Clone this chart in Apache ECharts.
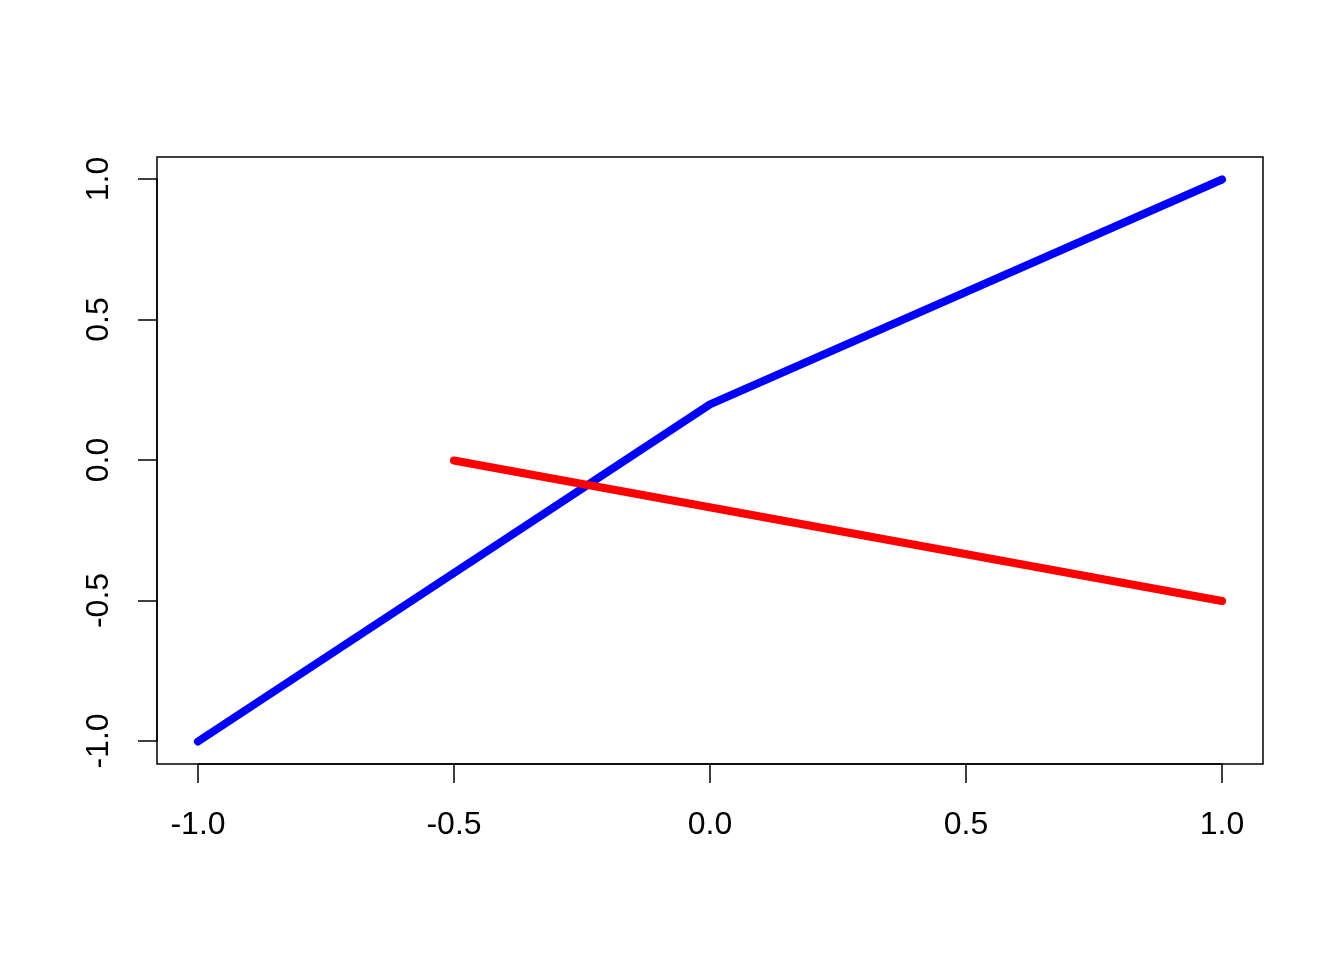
<!DOCTYPE html>
<html><head><meta charset="utf-8">
<script src="https://cdn.jsdelivr.net/npm/echarts@6/dist/echarts.min.js"></script>
<style>html,body{margin:0;padding:0;background:#fff}#c{width:1344px;height:960px}</style>
</head><body><div id="c"></div>
<script>
const blueX = [-1, 0, 1];
const blueY = [-1, 0.2, 1];
const redX = [-0.5, 1];
const redY = [0, -0.5];
const xTicks = [-1.0, -0.5, 0.0, 0.5, 1.0];
const yTicks = [-1.0, -0.5, 0.0, 0.5, 1.0];

const pair = (xs, ys) => xs.map((x, i) => [x, ys[i]]);
const font = 'Liberation Sans, Arial, sans-serif';
const chart = echarts.init(document.getElementById('c'), null, {renderer: 'canvas'});
chart.setOption({
  animation: false,
  backgroundColor: '#fff',
  grid: [
    {left: 157, top: 157, width: 1106, height: 607, show: true, borderColor: '#000', borderWidth: 1.5, backgroundColor: 'transparent'},
    {left: 198, top: 179, width: 1024, height: 562}
  ],
  xAxis: [
    {gridIndex: 0, type: 'value', min: -1.08, max: 1.08, show: false},
    {gridIndex: 1, type: 'value', min: -1, max: 1, interval: 0.5, position: 'bottom', offset: 23,
     axisLine: {show: true, onZero: false, lineStyle: {color: '#000', width: 1.5}},
     axisTick: {show: true, length: 19, lineStyle: {color: '#000', width: 1.5}},
     axisLabel: {show: true, margin: 45, fontSize: 32, color: '#000', fontFamily: font,
       formatter: v => xTicks.includes(v) ? v.toFixed(1) : ''},
     splitLine: {show: false}}
  ],
  yAxis: [
    {gridIndex: 0, type: 'value', min: -1.08, max: 1.08, show: false},
    {gridIndex: 1, type: 'value', min: -1, max: 1, interval: 0.5, position: 'left', offset: 41,
     axisLine: {show: true, onZero: false, lineStyle: {color: '#000', width: 1.5}},
     axisTick: {show: true, length: 19, lineStyle: {color: '#000', width: 1.5}},
     axisLabel: {show: true, margin: 58, fontSize: 32, color: '#000', fontFamily: font, rotate: 90,
       verticalAlign: 'middle', align: 'center',
       formatter: v => yTicks.includes(v) ? v.toFixed(1) : ''},
     splitLine: {show: false}}
  ],
  series: [
    {type: 'line', xAxisIndex: 0, yAxisIndex: 0, data: pair(blueX, blueY), symbol: 'none',
     lineStyle: {color: '#0000ff', width: 8, cap: 'round', join: 'round'}},
    {type: 'line', xAxisIndex: 0, yAxisIndex: 0, data: pair(redX, redY), symbol: 'none',
     lineStyle: {color: '#ff0000', width: 8, cap: 'round', join: 'round'}}
  ]
});
</script></body></html>
